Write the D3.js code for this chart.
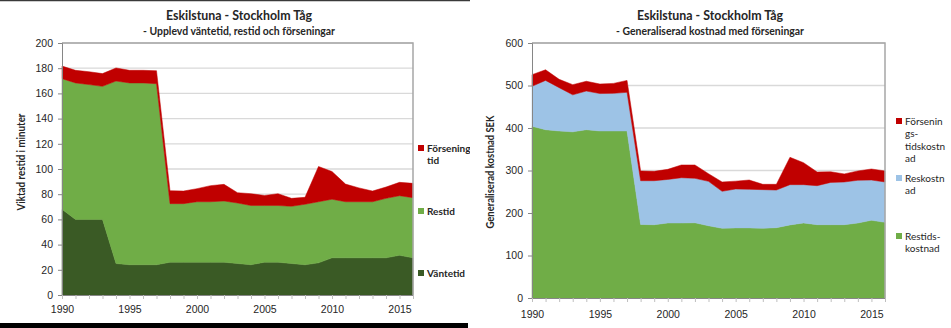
<!DOCTYPE html>
<html>
<head>
  <meta charset="UTF-8">
  <title>Eskilstuna - Stockholm Tåg</title>
  <style>
    body { margin: 0; background: #fff; }
    svg { display: block; font-family: Lato, "Open Sans", sans-serif; }
    .tick text { fill: #262626; font-size: 10.5px; }
    .grid line { stroke: #d9d9d9; stroke-width: 1.3px; }
    .ttl { font-weight: bold; fill: #262626; }
  </style>
</head>
<body>
  <svg width="951" height="328" id="chart"></svg>
  <script src="https://d3js.org/d3.v7.min.js"></script>
  <script>
    // data
    var years = [1990, 1991, 1992, 1993, 1994, 1995, 1996, 1997, 1998, 1999, 2000, 2001, 2002, 2003,
      2004, 2005, 2006, 2007, 2008, 2009, 2010, 2011, 2012, 2013, 2014, 2015, 2016];
    var xTicks = [1990, 1995, 2000, 2005, 2010, 2015];

    // left chart (minutes)
    var vantetid = [68, 60, 60, 60, 25, 24, 24, 24, 26, 26, 26, 26, 26, 25, 24, 26, 26, 25, 24, 25.5,
      29.5, 29.5, 29.5, 29.5, 29.5, 31.5, 29.5];
    var restid = [103.7, 108.3, 107, 105.6, 144.8, 144.3, 144.3, 143.7, 46.5, 46.5, 48, 48, 48.6, 48,
      47, 45, 45, 45.4, 48, 48.5, 46.5, 44.5, 44.5, 44.5, 47.2, 47.3, 47.7];
    var forseningstid = [10, 10, 10.2, 10.1, 10.4, 10, 10, 10.3, 10.3, 10, 10.4, 12.8, 13.2, 8.2, 9.4,
      8, 9.4, 6.3, 5.5, 28, 22, 14, 11, 8.5, 9, 10.6, 11.4];
    var leftTicks = [0, 20, 40, 60, 80, 100, 120, 140, 160, 180, 200];

    // right chart (SEK)
    var restidskostnad = [404, 396, 393, 391, 396, 393, 393, 393, 173, 172.5, 176.5, 176.5, 177, 170,
      164, 165, 165, 164, 165.5, 172, 176.5, 172.5, 172.5, 172.5, 176.5, 183, 178];
    var reskostnad = [94, 116, 102, 87, 91, 88, 88.5, 91, 103, 103.5, 102.5, 106.5, 104.6, 104.5, 87,
      91.5, 90.7, 91, 88.5, 94.7, 90.2, 91.8, 99.5, 100.5, 100.5, 94.6, 95];
    var forseningskostnad = [27.5, 25, 19.5, 24, 23, 22.5, 23.5, 28, 23, 22, 23.7, 30, 31.4, 18, 22,
      18.5, 21.9, 12.5, 13.5, 64.3, 51.7, 32.2, 25, 19, 22, 25.9, 26];
    var rightTicks = [0, 100, 200, 300, 400, 500, 600];

    var svg = d3.select("#chart");

    // frame of the left picture
    svg.append("line").attr("x1", 0).attr("x2", 470).attr("y1", 0.5).attr("y2", 0.5)
      .attr("stroke", "#3a3a3a").attr("stroke-width", 1.5);
    svg.append("rect").attr("x", 0).attr("y", 323).attr("width", 468).attr("height", 5).attr("fill", "#000");

    svg.append("defs").append("clipPath").attr("id", "clipL")
      .append("rect").attr("x", 0).attr("y", 0).attr("width", 470).attr("height", 322);

    function drawChart(opt) {
      var g = svg.append("g").attr("clip-path", opt.clip ? "url(#" + opt.clip + ")" : null);
      var x = d3.scaleLinear().domain([1990, 2016]).range([opt.left, opt.right]);
      var y = d3.scaleLinear().domain([0, opt.max]).range([opt.bottom, opt.top]);

      // gridlines
      g.append("g").attr("class", "grid")
        .selectAll("line").data(opt.yTicks.filter(function (d) { return d > 0; }))
        .enter().append("line")
        .attr("x1", opt.left).attr("x2", opt.right)
        .attr("y1", function (d) { return y(d); }).attr("y2", function (d) { return y(d); });

      var rows = years.map(function (yr, i) {
        var r = { year: yr };
        opt.series.forEach(function (s) { r[s.key] = s.values[i]; });
        return r;
      });
      var stack = d3.stack().keys(opt.series.map(function (s) { return s.key; }));
      var area = d3.area()
        .x(function (d) { return x(d.data.year); })
        .y0(function (d) { return y(d[0]); })
        .y1(function (d) { return y(d[1]); });

      g.append("g").selectAll("path").data(stack(rows)).enter().append("path")
        .attr("d", area)
        .attr("fill", function (d, i) { return opt.series[i].color; })
        .attr("stroke", function (d, i) { return opt.series[i].color; })
        .attr("stroke-width", 0.5);

      // plot border top/right
      g.append("path")
        .attr("d", "M" + opt.left + "," + opt.top + "H" + opt.right + "V" + opt.bottom)
        .attr("fill", "none").attr("stroke", "#a6a6a6").attr("stroke-width", 1.5);

      // y axis
      var ya = g.append("g").attr("transform", "translate(" + opt.left + ",0)")
        .call(d3.axisLeft(y).tickValues(opt.yTicks).tickSize(4).tickPadding(5));
      ya.select(".domain").attr("stroke", "#868686");
      ya.selectAll(".tick line").attr("stroke", "#868686");

      // x axis: minor ticks every year, labels every 5
      var xa = g.append("g").attr("transform", "translate(0," + opt.bottom + ")")
        .call(d3.axisBottom(x).tickValues(years).tickSize(4).tickSizeOuter(0)
          .tickFormat(function (d) { return xTicks.indexOf(d) >= 0 ? d : ""; }).tickPadding(opt.xPad));
      xa.select(".domain").attr("stroke", "#868686");
      xa.selectAll(".tick line").attr("stroke", "#bfbfbf");

      // titles
      g.append("text").attr("class", "ttl").attr("x", opt.cx).attr("y", 20)
        .attr("text-anchor", "middle").style("font-size", "13px")
        .attr("textLength", 146).attr("lengthAdjust", "spacingAndGlyphs")
        .text("Eskilstuna - Stockholm  Tåg");
      g.append("text").attr("class", "ttl").attr("x", opt.cx).attr("y", 35)
        .attr("text-anchor", "middle").style("font-size", "11px")
        .attr("textLength", opt.subLen).attr("lengthAdjust", "spacingAndGlyphs")
        .text(opt.subtitle);

      g.append("text").attr("class", "ttl")
        .attr("transform", "translate(" + opt.yTitleX + "," + opt.yTitleY + ") rotate(-90)")
        .attr("text-anchor", "middle").style("font-size", "10.5px")
        .attr("textLength", opt.yTitleLen).attr("lengthAdjust", "spacingAndGlyphs")
        .text(opt.yTitle);

      // legend
      var lg = g.append("g");
      opt.legend.forEach(function (it) {
        lg.append("rect").attr("x", opt.legX).attr("y", it.y - 7).attr("width", 6).attr("height", 6)
          .attr("fill", it.color);
        it.lines.forEach(function (ln, k) {
          lg.append("text").attr("x", opt.legX + 9).attr("y", it.y + k * 12.3)
            .style("font-size", "10px").style("font-weight", opt.legWeight)
            .attr("fill", "#262626").text(ln);
        });
      });
    }

    drawChart({
      clip: "clipL", left: 62, right: 413, top: 43, bottom: 295, max: 200, yTicks: leftTicks, xPad: 7,
      cx: 239, subtitle: "- Upplevd väntetid, restid och förseningar", subLen: 192,
      yTitle: "Viktad restid i minuter", yTitleX: 25, yTitleY: 162, yTitleLen: 97,
      series: [
        { key: "Väntetid", values: vantetid, color: "#3a5a25" },
        { key: "Restid", values: restid, color: "#70ad47" },
        { key: "Förseningstid", values: forseningstid, color: "#c00000" }
      ],
      legX: 418, legWeight: "bold",
      legend: [
        { y: 152, color: "#c00000", lines: ["Försenings-", "tid"] },
        { y: 215, color: "#70ad47", lines: ["Restid"] },
        { y: 277, color: "#3a5a25", lines: ["Väntetid"] }
      ]
    });

    drawChart({
      clip: null, left: 532, right: 885, top: 43, bottom: 298, max: 600, yTicks: rightTicks, xPad: 9,
      cx: 710, subtitle: "- Generaliserad kostnad med förseningar", subLen: 188,
      yTitle: "Generaliserad kostnad  SEK", yTitleX: 494, yTitleY: 172, yTitleLen: 113,
      series: [
        { key: "Restidskostnad", values: restidskostnad, color: "#70ad47" },
        { key: "Reskostnad", values: reskostnad, color: "#9dc3e6" },
        { key: "Förseningstidskostnad", values: forseningskostnad, color: "#c00000" }
      ],
      legX: 896, legWeight: "normal",
      legend: [
        { y: 125, color: "#c00000", lines: ["Försenin", "gs-", "tidskostn", "ad"] },
        { y: 182, color: "#9dc3e6", lines: ["Reskostn", "ad"] },
        { y: 240, color: "#70ad47", lines: ["Restids-", "kostnad"] }
      ]
    });
  </script>
</body>
</html>
